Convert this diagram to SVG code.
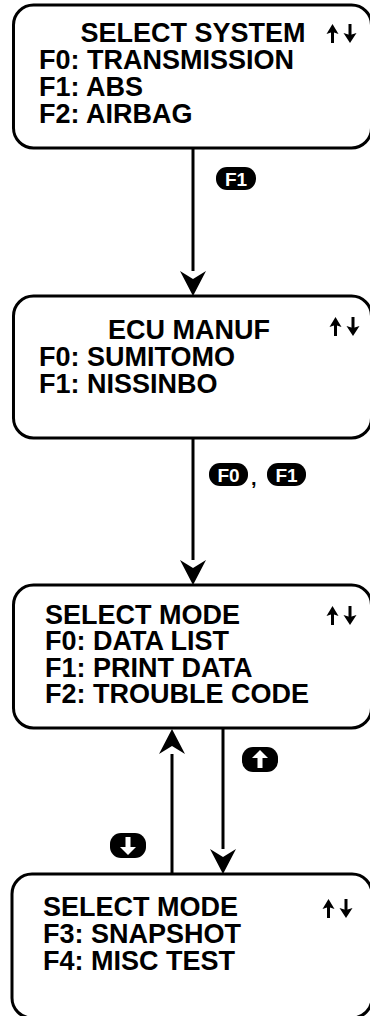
<svg xmlns="http://www.w3.org/2000/svg" width="370" height="1016" viewBox="0 0 370 1016">
<style>
.box{fill:#fff;stroke:#000;stroke-width:3}
.t{font-family:"Liberation Sans",Arial,sans-serif;font-weight:bold;font-size:27px;fill:#000}
.conn{stroke:#000;stroke-width:3;fill:none}
.key{fill:#000}
.kt{font-family:"Liberation Sans",Arial,sans-serif;font-weight:bold;font-size:19px;fill:#fff;text-anchor:middle}
.wa{fill:#fff}
</style>
<defs>
<marker id="ah" markerUnits="userSpaceOnUse" viewBox="-1 -14 28 28" refX="0" refY="0" markerWidth="28" markerHeight="28" orient="auto">
<path d="M25,0 L0,-13 L8,0 L0,13 Z" fill="#000"/>
</marker>
<symbol id="ud" viewBox="0 0 32 19" width="32" height="19" overflow="visible">
<path d="M6.5,19 V7" stroke="#000" stroke-width="3"/>
<path d="M0.5,10 L6.5,0 L12.5,10 L6.5,8 Z" fill="#000"/>
<path d="M24,0 V12" stroke="#000" stroke-width="3"/>
<path d="M17.5,9 L24,19 L30.5,9 L24,11 Z" fill="#000"/>
</symbol>
</defs>
<rect width="370" height="1016" fill="#fff"/>
<g id="connectors">
<line class="conn" x1="193" y1="148" x2="193" y2="271" marker-end="url(#ah)"/>
<line class="conn" x1="193" y1="438" x2="193" y2="560" marker-end="url(#ah)"/>
<line class="conn" x1="172" y1="874" x2="172" y2="754" marker-end="url(#ah)"/>
<line class="conn" x1="223" y1="728" x2="223" y2="849" marker-end="url(#ah)"/>
<g id="label-f1">
<rect class="key" x="216" y="167" width="40" height="23" rx="11"/>
<text class="kt" x="236" y="185.5">F1</text>
</g>
<g id="label-f0-f1">
<rect class="key" x="209" y="463" width="39" height="23" rx="11"/>
<text class="kt" x="228.5" y="481.5">F0</text>
<text class="t" x="251" y="485" style="font-size:20px">,</text>
<rect class="key" x="267" y="463" width="39" height="23" rx="11"/>
<text class="kt" x="286.5" y="481.5">F1</text>
</g>
<g id="label-up">
<rect class="key" x="242" y="747" width="36" height="25" rx="11"/>
<path class="wa" d="M257.5,768 V758 H252 L260,750 L268,758 H262.5 V768 Z"/>
</g>
<g id="label-down">
<rect class="key" x="110" y="833" width="36" height="25" rx="11"/>
<path class="wa" d="M125.5,837 V847 H120 L128,855 L136,847 H130.5 V837 Z"/>
</g>
</g>
<g id="select-system">
<rect class="box" x="13.5" y="5" width="358" height="143" rx="20"/>
<text class="t" x="193" y="42" text-anchor="middle">SELECT SYSTEM</text>
<text class="t" x="39" y="69">F0: TRANSMISSION</text>
<text class="t" x="39" y="96">F1: ABS</text>
<text class="t" x="39" y="123">F2: AIRBAG</text>
<use href="#ud" x="326" y="24"/>
</g>
<g id="ecu-manuf">
<rect class="box" x="13.5" y="296" width="358" height="142" rx="20"/>
<text class="t" x="189" y="339" text-anchor="middle">ECU MANUF</text>
<text class="t" x="39" y="366">F0: SUMITOMO</text>
<text class="t" x="39" y="393">F1: NISSINBO</text>
<use href="#ud" x="329" y="317"/>
</g>
<g id="select-mode-1">
<rect class="box" x="13.5" y="585" width="358" height="143" rx="20"/>
<text class="t" x="45" y="624">SELECT MODE</text>
<text class="t" x="45" y="650">F0: DATA LIST</text>
<text class="t" x="45" y="677">F1: PRINT DATA</text>
<text class="t" x="45" y="703">F2: TROUBLE CODE</text>
<use href="#ud" x="326" y="606"/>
</g>
<g id="select-mode-2">
<rect class="box" x="12" y="874" width="360" height="144" rx="20"/>
<text class="t" x="43" y="916">SELECT MODE</text>
<text class="t" x="43" y="943">F3: SNAPSHOT</text>
<text class="t" x="43" y="970">F4: MISC TEST</text>
<use href="#ud" x="322" y="899"/>
</g>
</svg>
